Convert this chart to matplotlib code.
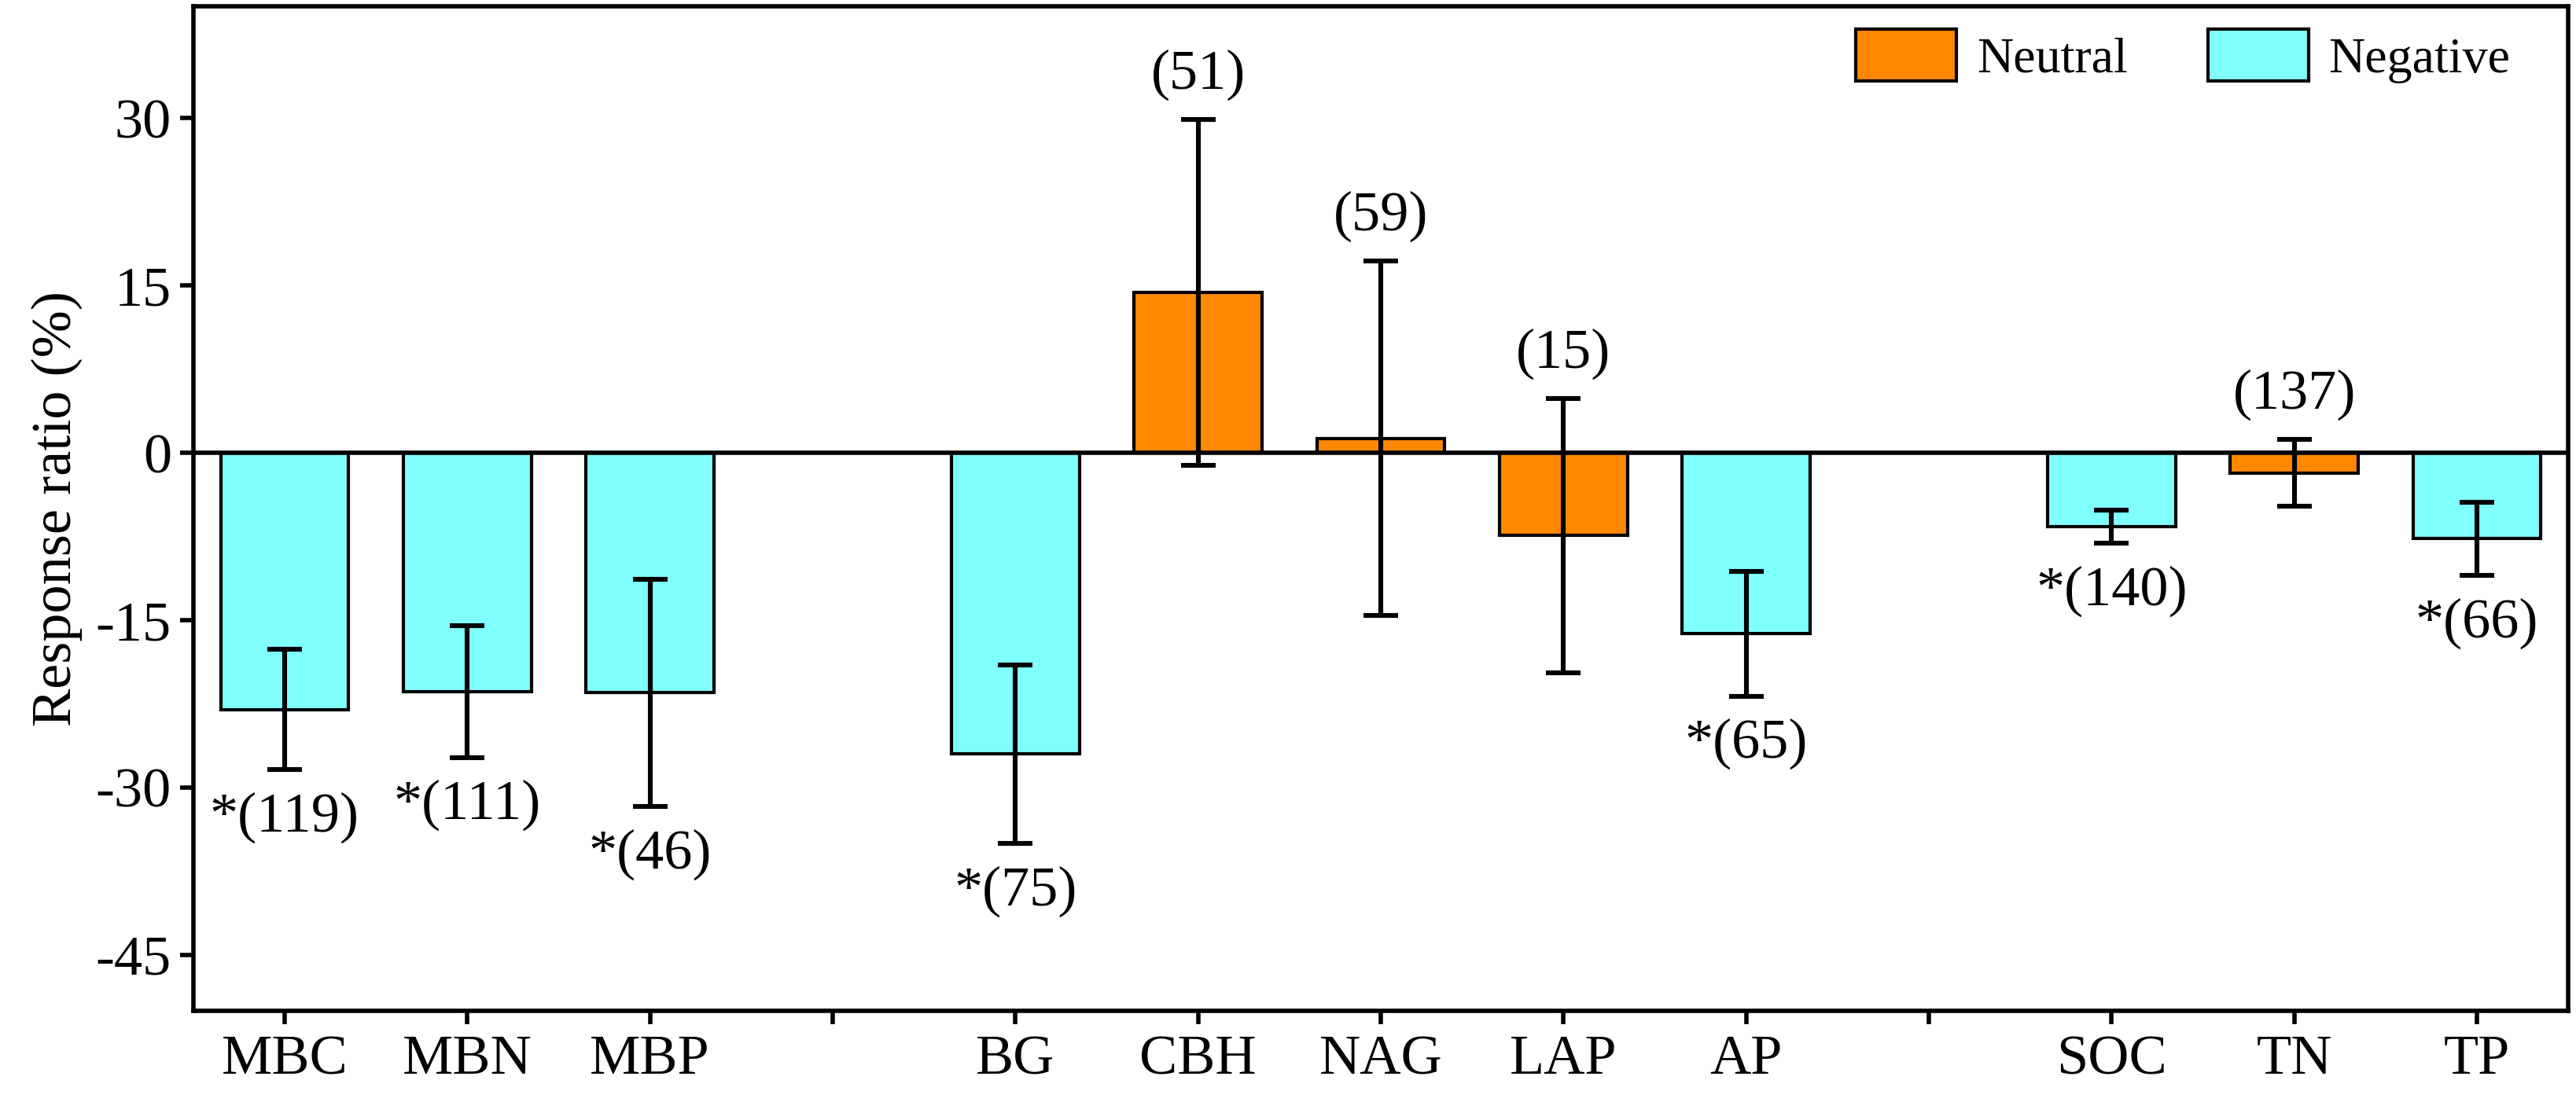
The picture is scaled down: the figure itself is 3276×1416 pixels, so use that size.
import matplotlib
matplotlib.use("Agg")
import matplotlib.pyplot as plt
from matplotlib.patches import Patch
import numpy as np

plt.rcParams['font.family'] = ['Liberation Serif', 'DejaVu Serif']
plt.rcParams['axes.unicode_minus'] = False

# data
groups = [['MBC', 'MBN', 'MBP'],
          ['BG', 'CBH', 'NAG', 'LAP', 'AP'],
          ['SOC', 'TN', 'TP']]
means = [-23.0, -21.4, -21.5, -27.0, 14.4, 1.3, -7.4, -16.2, -6.6, -1.8, -7.7]
errs = [5.4, 5.9, 10.2, 8.0, 15.5, 15.9, 12.3, 5.6, 1.5, 3.0, 3.3]
ns = [119, 111, 46, 75, 51, 59, 15, 65, 140, 137, 66]
sig = [True, True, True, True, False, False, False, True, True, False, True]

NEU = '#FF8800'
NEG = '#80FFFF'
FS = 26

# x positions with one empty slot between groups
pos = []
labels = []
gaps = []
x = 0
for gi, g in enumerate(groups):
    for name in g:
        pos.append(x)
        labels.append(name)
        x += 1
    if gi < len(groups) - 1:
        gaps.append(x)
        x += 1

fig = plt.figure(figsize=(16.38, 7.08), dpi=200)
ax = fig.add_axes([0.075, 0.092, 0.922, 0.902])

colors = [NEG if s else NEU for s in sig]
ax.bar(pos, means, width=0.7, color=colors, edgecolor='black', linewidth=1.5, zorder=2)
ax.errorbar(pos, means, yerr=errs, fmt='none', ecolor='black', elinewidth=2.2,
            capsize=8, capthick=2.2, zorder=3)
ax.axhline(0, color='black', lw=2.0, zorder=4)

for p, m, e, n, s in zip(pos, means, errs, ns, sig):
    if s:
        ax.text(p, m - e - 4.3, '*(%d)' % n, ha='center', va='center', fontsize=FS)
    else:
        ax.text(p, m + e + 4.0, '(%d)' % n, ha='center', va='center', fontsize=FS)

ax.set_xlim(-0.5, x - 0.5)
ax.set_ylim(-50, 40)
ax.set_yticks([-45, -30, -15, 0, 15, 30])
ax.set_xticks(pos + gaps)
ax.set_xticklabels(labels + [''] * len(gaps))
ax.tick_params(axis='both', direction='out', length=6, width=2.0, labelsize=FS)
ax.tick_params(axis='x', pad=5)
ax.tick_params(axis='y', pad=4)
for sp in ax.spines.values():
    sp.set_linewidth(2.0)

ax.set_ylabel('Response ratio (%)', fontsize=FS, labelpad=6)

handles = [Patch(facecolor=NEU, edgecolor='black', linewidth=1.5, label='Neutral'),
           Patch(facecolor=NEG, edgecolor='black', linewidth=1.5, label='Negative')]
ax.legend(handles=handles, ncol=2, loc='upper right', frameon=False, fontsize=23,
          handlelength=2.0, handleheight=1.2, columnspacing=1.6, handletextpad=0.4,
          borderaxespad=0.15, borderpad=0.3, bbox_to_anchor=(0.985, 1.0))

fig.savefig('out.png', dpi=200)
